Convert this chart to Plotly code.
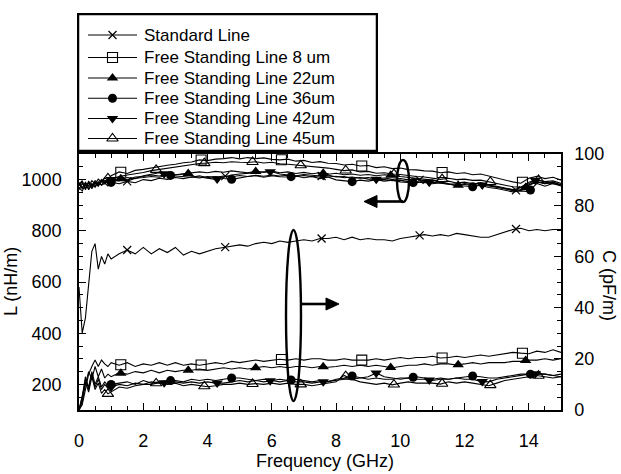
import numpy as np
import plotly.graph_objects as go

# Frequency grid (GHz)
freq = [0, 0.1, 0.2, 0.3, 0.4, 0.5, 0.6, 0.7, 0.8, 0.9, 1.0,
        1.25, 1.5, 1.75, 2.0, 2.25, 2.5, 2.75, 3.0, 3.25, 3.5, 3.75, 4.0,
        4.25, 4.5, 4.75, 5.0, 5.25, 5.5, 5.75, 6.0, 6.25, 6.5, 6.75, 7.0,
        7.25, 7.5, 7.75, 8.0, 8.25, 8.5, 8.75, 9.0, 9.25, 9.5, 9.75, 10.0,
        10.25, 10.5, 10.75, 11.0, 11.25, 11.5, 11.75, 12.0, 12.25, 12.5, 12.75, 13.0,
        13.25, 13.5, 13.75, 14.0, 14.25, 14.5, 14.75, 15.0]

# Inductance per unit length, L (nH/m)  -> left axis
L_std = [970, 955, 980, 965, 985, 970, 990, 978, 986, 975, 990,
         984, 993, 988, 1000, 996, 1005, 1001, 1008, 1004, 1010, 1006, 1012,
         1009, 1014, 1011, 1016, 1012, 1017, 1013, 1018, 1014, 1017, 1012, 1016,
         1011, 1015, 1010, 1013, 1007, 1010, 1005, 1008, 1003, 1006, 1001, 1004,
         999, 1002, 995, 998, 991, 994, 987, 990, 984, 986, 978, 972,
         965, 957, 960, 980, 993, 984, 989, 980]
L_8 = [985, 968, 990, 974, 996, 984, 1002, 990, 1006, 998, 1015,
       1030, 1024, 1036, 1040, 1046, 1050, 1056, 1060, 1066, 1069, 1077, 1074,
       1080, 1082, 1086, 1081, 1086, 1082, 1085, 1079, 1077, 1080, 1072, 1075,
       1067, 1070, 1064, 1063, 1057, 1060, 1053, 1055, 1047, 1050, 1043, 1045,
       1039, 1038, 1034, 1033, 1027, 1030, 1024, 1027, 1019, 1022, 1014, 1007,
       999, 991, 986, 1005, 1013, 1004, 1009, 998]
L_22 = [975, 992, 960, 995, 970, 990, 979, 996, 984, 1000, 994,
        1005, 999, 1010, 1012, 1018, 1014, 1022, 1019, 1023, 1025, 1030, 1027,
        1032, 1029, 1034, 1030, 1027, 1032, 1029, 1033, 1027, 1030, 1024, 1028,
        1023, 1027, 1021, 1025, 1019, 1022, 1017, 1020, 1015, 1019, 1017, 1012,
        1008, 1005, 1001, 998, 991, 985, 976, 985, 981, 988, 979, 974,
        967, 961, 957, 978, 991, 984, 990, 979]
L_36 = [960, 985, 968, 990, 964, 986, 974, 995, 984, 992, 989,
        1000, 994, 1005, 1008, 1012, 1009, 1018, 1014, 1011, 1009, 1015, 1007,
        1012, 1004, 1001, 1008, 1012, 1015, 1009, 1015, 1011, 1010, 1014, 1007,
        1012, 1004, 1010, 999, 996, 992, 998, 994, 1000, 994, 998, 991,
        989, 988, 992, 984, 988, 981, 977, 975, 972, 978, 969, 965,
        959, 952, 956, 953, 985, 974, 985, 975]
L_42 = [990, 964, 986, 960, 981, 974, 991, 979, 996, 989, 1000,
        995, 1008, 1004, 1015, 1020, 1027, 1020, 1018, 1022, 1014, 1010, 1005,
        1001, 1010, 1018, 1022, 1025, 1028, 1030, 1031, 1022, 1018, 1015, 1020,
        1016, 1014, 1018, 1010, 1012, 1005, 1008, 1002, 1001, 1000, 996, 998,
        992, 990, 988, 990, 985, 982, 984, 980, 978, 980, 975, 970,
        965, 960, 968, 985, 1000, 990, 985, 978]
L_45 = [980, 996, 964, 986, 975, 996, 984, 1000, 990, 1005, 999,
        1012, 1018, 1022, 1028, 1035, 1040, 1045, 1050, 1053, 1058, 1063, 1065,
        1068, 1066, 1070, 1068, 1067, 1070, 1065, 1068, 1062, 1060, 1057, 1055,
        1050, 1048, 1045, 1040, 1035, 1038, 1030, 1032, 1025, 1027, 1022, 1020,
        1015, 1012, 1010, 1005, 1001, 1005, 1000, 1002, 997, 998, 992, 985,
        978, 972, 970, 990, 1000, 992, 995, 985]

# Capacitance per unit length, C (pF/m)  -> right axis
C_std = [48, 30, 36, 48, 62, 65, 55, 60, 57, 61, 59,
         61, 62.5, 61, 63.5, 61, 63, 61.5, 63.5, 60.5, 62, 61, 62,
         63, 63.5, 64, 64.5, 64, 65, 65.5, 65, 66, 65.5, 66, 66.5,
         66, 67, 67, 67.5, 66.5, 67.5, 66.5, 67, 66.5, 66.5, 66, 67,
         67.5, 68, 68.5, 68, 68.5, 68, 69, 68.5, 68, 67.5, 67.5, 68.5,
         69.5, 70.5, 71, 70, 70.5, 70, 70.5, 70.5]
C_8 = [0, 2, 8, 14, 17, 19.5, 17, 19.5, 18, 17, 18.5,
       17.5, 18.5, 17, 18, 17.5, 18.5, 17.5, 18.5, 17.5, 18, 17.5, 18,
       18.5, 18, 19, 18.5, 19, 19.5, 19, 19.5, 19.8, 19.5, 20, 19.5,
       20, 20, 19.5, 19.5, 20, 19.5, 19.5, 19.5, 20, 19.5, 20, 20.5,
       20, 20.5, 20.5, 21, 20.3, 20.5, 21, 20.5, 21, 21.5, 21, 21.5,
       22, 22.5, 22.2, 22, 23, 22.5, 23.5, 22.5]
C_22 = [0, 3, 10, 15, 12, 17, 13, 16, 12.5, 14, 13,
        14.5, 14, 15, 14.5, 15.5, 14.5, 15.5, 15, 15.5, 15.5, 16, 15.5,
        16, 16.5, 16, 16.5, 16, 16.5, 17, 16.5, 17, 16.5, 17, 17,
        16.5, 17, 16.7, 17, 17.5, 17, 17.5, 17, 17.5, 17, 16.5, 17,
        17.5, 17.5, 18, 17.5, 18, 18, 17.6, 18, 18.5, 18, 18.5, 18.5,
        18.5, 19, 19, 19.5, 19.5, 20, 19.5, 20]
C_36 = [0, 4, 12, 9, 15, 10, 13, 9, 11, 9.5, 10,
        10.5, 11, 10, 11.5, 10.5, 11, 11.5, 11.5, 11, 12, 11.5, 12,
        11.5, 12, 12.5, 12.5, 12, 11.5, 12, 11.5, 12, 11.5, 12, 11.5,
        11, 11.5, 11, 12, 12.5, 13.3, 12.5, 12, 12.5, 12, 12, 12.5,
        12.5, 13, 12.5, 12, 12.5, 12, 12.5, 13, 13.3, 13, 12.5, 12.5,
        13, 13.5, 14, 14, 14, 14, 13.5, 14]
C_42 = [0, 5, 13, 8, 14, 9, 12, 8, 10, 8.5, 9,
        10, 9.5, 10.5, 10, 11, 10.5, 10.7, 11, 10.5, 11, 10.5, 11,
        10.5, 10.5, 11, 11.5, 11, 11.5, 11, 11.5, 11, 11.5, 11, 11,
        10.5, 11, 11.2, 11.5, 12, 12, 12.5, 13, 14.5, 13, 12.5, 12,
        12.5, 12, 12, 11.5, 12, 12, 12.5, 12, 12, 11.2, 11, 12,
        12.5, 13, 13.5, 14, 14.2, 14, 13.5, 13]
C_45 = [0, 6, 11, 7, 13, 8, 10.5, 6.5, 8, 6.3, 7,
        9, 8.5, 9.5, 10, 10, 10.7, 10, 10.5, 9.5, 10, 9.5, 9.1,
        9.5, 10, 10, 10.5, 10, 10.3, 10, 10.5, 10, 10.5, 10, 10,
        9.5, 10, 10.5, 11, 13.5, 12, 11, 10.5, 10, 10.5, 9.8, 10.5,
        11, 10.5, 10.5, 10.5, 10.1, 11, 10.5, 11, 10.5, 10, 9.5, 10.5,
        11.5, 12, 12.5, 13, 13.5, 13, 12.5, 13]

# Frequencies at which each curve carries a symbol
mk_std = [1.5, 4.55, 7.55, 10.6, 13.6]
mk_8 = [1.3, 3.8, 6.3, 8.8, 11.3, 13.8]
mk_22 = [1.3, 3.4, 5.5, 7.6, 9.7, 11.8, 13.9]
mk_36 = [1.0, 2.85, 4.75, 6.6, 8.5, 10.4, 12.25, 14.05]
mk_42 = [1.0, 2.65, 4.3, 5.95, 7.6, 9.25, 10.9, 12.55, 14.2]
mk_45 = [0.9, 2.4, 3.9, 5.4, 6.9, 8.3, 9.8, 11.3, 12.8, 14.3]

names = ["Standard Line", "Free Standing Line 8 um", "Free Standing Line 22um",
         "Free Standing Line 36um", "Free Standing Line 42um", "Free Standing Line 45um"]

# ---------------------------------------------------------------- styling
W, H = 621, 474
X0, X1, Y0, Y1 = 79, 561, 154, 410          # plot frame (px)
FONT = "Liberation Sans, Arial, Helvetica, sans-serif"
INK = "black"


def px(x, y):
    """Pixel position -> paper coordinates."""
    return x / W, 1 - y / H


symbols = [
    dict(symbol="x-thin-open", size=8, color=INK, line=dict(width=1.2, color=INK)),
    dict(symbol="square-open", size=10, color=INK, line=dict(width=1.1, color=INK)),
    dict(symbol="triangle-up", size=10, color=INK, line=dict(width=0)),
    dict(symbol="circle", size=9, color=INK, line=dict(width=0)),
    dict(symbol="triangle-down", size=10, color=INK, line=dict(width=0)),
    dict(symbol="triangle-up-open", size=10, color=INK, line=dict(width=1.1, color=INK)),
]

L_all = [L_std, L_8, L_22, L_36, L_42, L_45]
C_all = [C_std, C_8, C_22, C_36, C_42, C_45]
mk_all = [mk_std, mk_8, mk_22, mk_36, mk_42, mk_45]

fig = go.Figure()

for name, Lv, Cv, mk, sym in zip(names, L_all, C_all, mk_all, symbols):
    for vals, yax in ((Lv, "y"), (Cv, "y2")):
        fig.add_trace(go.Scatter(x=freq, y=vals, mode="lines", name=name, yaxis=yax,
                                 line=dict(color=INK, width=1.1), showlegend=False,
                                 hoverinfo="skip"))
        fig.add_trace(go.Scatter(x=mk, y=np.interp(mk, freq, vals), mode="markers",
                                 name=name, yaxis=yax, marker=sym, showlegend=False))

# ---------------------------------------------------------------- legend (own pixel axes)
LEG_L, LEG_R, LEG_T, LEG_B = 77, 378, 13, 152
row_y = [35, 57.5, 78, 98.3, 118.5, 138.5]
for name, sym, ry in zip(names, symbols, row_y):
    fig.add_trace(go.Scatter(x=[88, 137], y=[ry, ry], mode="lines", xaxis="x3", yaxis="y3",
                             line=dict(color=INK, width=1.1), showlegend=False, hoverinfo="skip"))
    fig.add_trace(go.Scatter(x=[112.5], y=[ry], mode="markers", xaxis="x3", yaxis="y3",
                             marker=sym, showlegend=False, hoverinfo="skip"))
    fig.add_annotation(x=142, y=ry, xref="x3", yref="y3", text=name, showarrow=False,
                       xanchor="left", yanchor="middle",
                       font=dict(family=FONT, size=17, color=INK))

shapes = [dict(type="rect", xref="x3", yref="y3", x0=LEG_L + 1, x1=LEG_R - 1,
               y0=LEG_T + 1, y1=LEG_B - 1, line=dict(color=INK, width=2.5))]

# ellipses and arrows marking which axis each group belongs to
def add_ellipse(xa, xb, ya, yb):
    (p0, q0), (p1, q1) = px(xa, ya), px(xb, yb)
    shapes.append(dict(type="circle", xref="paper", yref="paper", x0=p0, x1=p1,
                       y0=q0, y1=q1, line=dict(color=INK, width=2.4)))


def add_arrow(xs, xe, tip, y, half=6):
    (a0, b0), (a1, b1) = px(xs, y), px(xe, y)
    shapes.append(dict(type="line", xref="paper", yref="paper", x0=a0, y0=b0, x1=a1, y1=b1,
                       line=dict(color=INK, width=2.6)))
    pts = [px(tip, y), px(xe, y - half), px(xe, y + half)]
    path = "M {} {} L {} {} L {} {} Z".format(*[v for p in pts for v in p])
    shapes.append(dict(type="path", xref="paper", yref="paper", path=path,
                       fillcolor=INK, line=dict(color=INK, width=1)))


add_ellipse(397, 409, 160, 202)          # L group
add_arrow(403, 377, 364, 201.5)
add_ellipse(286, 301, 230, 401)          # C group
add_arrow(300, 326, 339, 304)

tick_font = dict(family=FONT, size=18, color=INK)
common = dict(showline=True, linecolor=INK, linewidth=1.5, ticks="inside", tickcolor=INK,
              tickwidth=1.2, ticklen=7, showgrid=False, zeroline=False,
              tickfont=tick_font, automargin=False)

fig.update_layout(
    width=W, height=H, margin=dict(l=0, r=0, t=0, b=0),
    paper_bgcolor="white", plot_bgcolor="white", showlegend=False,
    xaxis=dict(domain=[X0 / W, X1 / W], range=[0, 15], tickvals=[0, 2, 4, 6, 8, 10, 12, 14],
               mirror="ticks", ticklabelstandoff=14,
               minor=dict(dtick=0.5, tick0=0, ticks="inside", ticklen=4, tickcolor=INK,
                          showgrid=False),
               **common),
    yaxis=dict(domain=[1 - Y1 / H, 1 - Y0 / H], range=[100, 1100],
               tickvals=[200, 400, 600, 800, 1000], ticklabelstandoff=12,
               minor=dict(dtick=50, tick0=0, ticks="inside", ticklen=4, tickcolor=INK,
                          showgrid=False),
               **common),
    yaxis2=dict(overlaying="y", side="right", anchor="x", range=[0, 100],
                tickvals=[0, 20, 40, 60, 80, 100], ticklabelstandoff=8,
                minor=dict(dtick=5, tick0=0, ticks="inside", ticklen=4, tickcolor=INK,
                           showgrid=False),
                **common),
    xaxis3=dict(domain=[LEG_L / W, LEG_R / W], range=[LEG_L, LEG_R], visible=False,
                anchor="y3", fixedrange=True),
    yaxis3=dict(domain=[1 - LEG_B / H, 1 - LEG_T / H], range=[LEG_B, LEG_T], visible=False,
                anchor="x3", fixedrange=True),
    shapes=shapes,
)

title_font = dict(family=FONT, size=18, color=INK)
for text, (xx, yy), ang in (("L (nH/m)", px(11, 282), -90),
                            ("C (pF/m)", px(609, 285), 90),
                            ("Frequency (GHz)", px(325, 461), 0)):
    fig.add_annotation(x=xx, y=yy, xref="paper", yref="paper", text=text, textangle=ang,
                       showarrow=False, xanchor="center", yanchor="middle", font=title_font)

fig.write_html("out.html")
